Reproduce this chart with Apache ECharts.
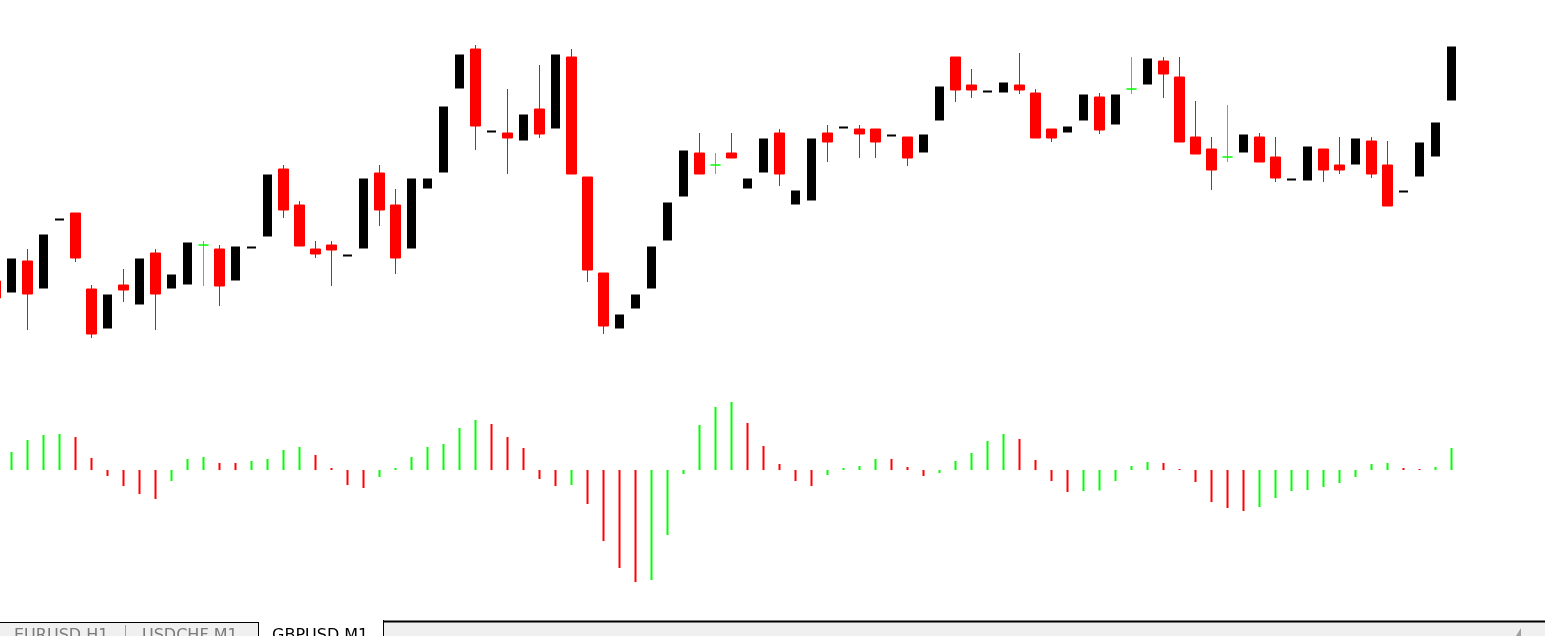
<!DOCTYPE html>
<html>
<head>
<meta charset="utf-8">
<script src="https://cdn.jsdelivr.net/npm/echarts@6/dist/echarts.min.js"></script>
<style>
html,body{margin:0;padding:0;background:#fff;overflow:hidden;width:1545px;height:636px;position:relative;}
#c{position:absolute;left:-13px;top:0;width:1558px;height:636px;}
</style>
</head>
<body>
<div id="c"></div>
<script>
// GBPUSD, M1 — first bar is the partly hidden one at the left edge
const openP = [1.25069,1.25057,1.25089,1.25061,1.25129,1.25137,1.25061,1.25021,1.25065,1.25045,
1.25097,1.25061,1.25065,1.25105,1.25101,1.25069,1.25101,1.25113,1.25181,1.25145,
1.25101,1.25105,1.25093,1.25101,1.25177,1.25145,1.25101,1.25161,1.25177,1.25261,
1.25301,1.25217,1.25217,1.25209,1.25241,1.25221,1.25293,1.25173,1.25077,1.25021,
1.25041,1.25061,1.25109,1.25153,1.25197,1.25185,1.25197,1.25161,1.25177,1.25217,
1.25145,1.25149,1.25217,1.25221,1.25221,1.25221,1.25213,1.25213,1.25197,1.25229,
1.25293,1.25265,1.25257,1.25257,1.25265,1.25257,1.25221,1.25217,1.25229,1.25253,
1.25225,1.25261,1.25265,1.25289,1.25273,1.25213,1.25201,1.25193,1.25197,1.25213,
1.25193,1.25169,1.25169,1.25201,1.25185,1.25185,1.25209,1.25185,1.25157,1.25173,
1.25193,1.25249];
const highP = [1.25069,1.25092,1.25101,1.25116,1.25132,1.25137,1.25065,1.25056,1.25081,1.25092,
1.25101,1.25076,1.25108,1.25109,1.25105,1.25104,1.25104,1.25176,1.25185,1.25149,
1.25109,1.25109,1.25096,1.25172,1.25185,1.25161,1.25172,1.25172,1.25244,1.25296,
1.25305,1.25220,1.25261,1.25236,1.25285,1.25296,1.25301,1.25173,1.25077,1.25036,
1.25056,1.25104,1.25148,1.25200,1.25217,1.25197,1.25217,1.25172,1.25212,1.25221,
1.25160,1.25212,1.25225,1.25224,1.25225,1.25221,1.25216,1.25213,1.25216,1.25264,
1.25293,1.25281,1.25260,1.25268,1.25297,1.25261,1.25221,1.25224,1.25256,1.25257,
1.25256,1.25293,1.25292,1.25293,1.25293,1.25249,1.25213,1.25245,1.25216,1.25217,
1.25213,1.25172,1.25204,1.25201,1.25213,1.25212,1.25213,1.25209,1.25160,1.25208,
1.25228,1.25304];
const lowP = [1.25052,1.25057,1.25020,1.25061,1.25129,1.25088,1.25012,1.25021,1.25048,1.25045,
1.25020,1.25061,1.25065,1.25064,1.25044,1.25069,1.25101,1.25113,1.25132,1.25104,
1.25092,1.25064,1.25093,1.25101,1.25124,1.25076,1.25101,1.25161,1.25177,1.25261,
1.25200,1.25217,1.25176,1.25209,1.25212,1.25221,1.25176,1.25068,1.25016,1.25021,
1.25041,1.25061,1.25109,1.25153,1.25176,1.25176,1.25192,1.25161,1.25177,1.25164,
1.25145,1.25149,1.25188,1.25221,1.25192,1.25192,1.25213,1.25184,1.25197,1.25229,
1.25248,1.25252,1.25257,1.25257,1.25256,1.25212,1.25208,1.25217,1.25229,1.25216,
1.25225,1.25256,1.25265,1.25252,1.25208,1.25196,1.25160,1.25188,1.25197,1.25188,
1.25168,1.25169,1.25169,1.25168,1.25176,1.25185,1.25172,1.25144,1.25157,1.25173,
1.25193,1.25249];
const closeP = [1.25052,1.25092,1.25056,1.25116,1.25132,1.25092,1.25016,1.25056,1.25060,1.25092,
1.25056,1.25076,1.25108,1.25105,1.25064,1.25104,1.25104,1.25176,1.25140,1.25104,
1.25096,1.25100,1.25096,1.25172,1.25140,1.25092,1.25172,1.25172,1.25244,1.25296,
1.25224,1.25220,1.25212,1.25236,1.25216,1.25296,1.25176,1.25080,1.25024,1.25036,
1.25056,1.25104,1.25148,1.25200,1.25176,1.25185,1.25192,1.25172,1.25212,1.25176,
1.25160,1.25212,1.25208,1.25224,1.25216,1.25208,1.25216,1.25192,1.25216,1.25264,
1.25260,1.25260,1.25260,1.25268,1.25260,1.25212,1.25212,1.25224,1.25256,1.25220,
1.25256,1.25261,1.25292,1.25276,1.25208,1.25196,1.25180,1.25193,1.25216,1.25188,
1.25172,1.25172,1.25204,1.25180,1.25180,1.25212,1.25176,1.25144,1.25160,1.25208,
1.25228,1.25304];
// Awesome Oscillator histogram (first bar hidden off the left edge)
const aoValues = [null,0.00018,0.00030,0.00035,0.00036,0.00033,0.00012,-0.00006,-0.00016,-0.00024,
-0.00029,-0.00011,0.00011,0.00013,0.00007,0.00007,0.00009,0.00011,0.00020,0.00023,
0.00015,0.00002,-0.00015,-0.00018,-0.00007,0.00002,0.00013,0.00023,0.00026,0.00042,
0.00050,0.00046,0.00033,0.00022,-0.00009,-0.00016,-0.00015,-0.00034,-0.00071,-0.00098,
-0.00112,-0.00110,-0.00065,-0.00004,0.00045,0.00063,0.00068,0.00047,0.00024,0.00006,
-0.00011,-0.00016,-0.00005,0.00002,0.00004,0.00011,0.00011,0.00003,-0.00006,-0.00003,
0.00009,0.00017,0.00029,0.00036,0.00031,0.00010,-0.00011,-0.00022,-0.00021,-0.000205,
-0.00011,0.00004,0.00008,0.00007,0.00001,-0.00012,-0.00032,-0.00038,-0.00041,-0.00037,
-0.00028,-0.00021,-0.00020,-0.00017,-0.00013,-0.00007,0.00006,0.00007,0.00002,0.00001,
0.00003,0.00022];
const tabLabels = ['EURUSD,H1','USDCHF,M1','GBPUSD,M1'];

const times = openP.map((_, i) => {
  const m = 14 * 60 + 9 + i;
  return String(Math.floor(m / 60)).padStart(2, '0') + ':' + String(m % 60).padStart(2, '0');
});

const candles = openP.map((o, i) => [o, closeP[i], lowP[i], highP[i]]);
const aoData = aoValues.map((v, i) => {
  if (v === null) return '-';
  const prev = i > 0 ? aoValues[i - 1] : null;
  const up = prev === null || v > prev;
  return { value: v, itemStyle: { color: up ? '#00ff00' : '#ff0000' } };
});

const chart = echarts.init(document.getElementById('c'), null, { renderer: 'canvas' });
const OX = 13; // container is shifted 13px left so the first bar is cut by the page edge
const gridLeft = 0.5, gridWidth = 1472;
const tabFont = '16px "DejaVu Sans"';
chart.setOption({
  animation: false,
  backgroundColor: '#ffffff',
  grid: [
    { left: gridLeft, width: gridWidth, top: 10, height: 340 },
    { left: gridLeft, width: gridWidth, top: 370, height: 220 }
  ],
  xAxis: [
    { type: 'category', data: times, gridIndex: 0, show: false, boundaryGap: true },
    { type: 'category', data: times, gridIndex: 1, show: false, boundaryGap: true }
  ],
  yAxis: [
    { type: 'value', gridIndex: 0, min: 1.25, max: 1.2534, show: false, scale: true },
    { type: 'value', gridIndex: 1, min: -0.0012, max: 0.0010, show: false }
  ],
  series: [
    {
      type: 'candlestick', xAxisIndex: 0, yAxisIndex: 0, data: candles,
      barWidth: 10,
      itemStyle: {
        color: '#000000', color0: '#ff0000',
        borderColor: '#ffffff', borderColor0: '#ff0000',
        borderColorDoji: '#00ff00', borderWidth: 1
      }
    },
    {
      type: 'bar', xAxisIndex: 1, yAxisIndex: 1, data: aoData, barWidth: 2
    }
  ],
  graphic: [
    { type: 'rect', shape: { x: OX + 0, y: 622, width: 1545, height: 14 }, style: { fill: '#f0f0f0' }, z: 10 },
    { type: 'line', shape: { x1: OX + 0, y1: 622.5, x2: OX + 258, y2: 622.5 }, style: { stroke: '#000', lineWidth: 1 }, z: 11 },
    { type: 'line', shape: { x1: OX + 384, y1: 621.5, x2: OX + 1545, y2: 621.5 }, style: { stroke: '#000', lineWidth: 2 }, z: 11 },
    { type: 'rect', shape: { x: OX + 258, y: 620, width: 126, height: 16 }, style: { fill: '#ffffff' }, z: 11 },
    { type: 'line', shape: { x1: OX + 258.5, y1: 622, x2: OX + 258.5, y2: 636 }, style: { stroke: '#000', lineWidth: 1 }, z: 12 },
    { type: 'line', shape: { x1: OX + 383.5, y1: 620, x2: OX + 383.5, y2: 636 }, style: { stroke: '#000', lineWidth: 1 }, z: 12 },
    { type: 'line', shape: { x1: OX + 125.5, y1: 625, x2: OX + 125.5, y2: 636 }, style: { stroke: '#a0a0a0', lineWidth: 1 }, z: 12 },
    { type: 'polygon', shape: { points: [[OX + 1521, 628], [OX + 1521, 636], [OX + 1516, 636]] }, style: { fill: '#a0a0a0' }, z: 12 },
    { type: 'text', x: OX + 14, y: 628, style: { text: tabLabels[0], fill: '#7a7a7a', font: tabFont, textVerticalAlign: 'top' }, z: 13 },
    { type: 'text', x: OX + 142, y: 628, style: { text: tabLabels[1], fill: '#7a7a7a', font: tabFont, textVerticalAlign: 'top' }, z: 13 },
    { type: 'text', x: OX + 272, y: 628, style: { text: tabLabels[2], fill: '#000000', font: tabFont, textVerticalAlign: 'top' }, z: 13 }
  ]
});
</script>
</body>
</html>
